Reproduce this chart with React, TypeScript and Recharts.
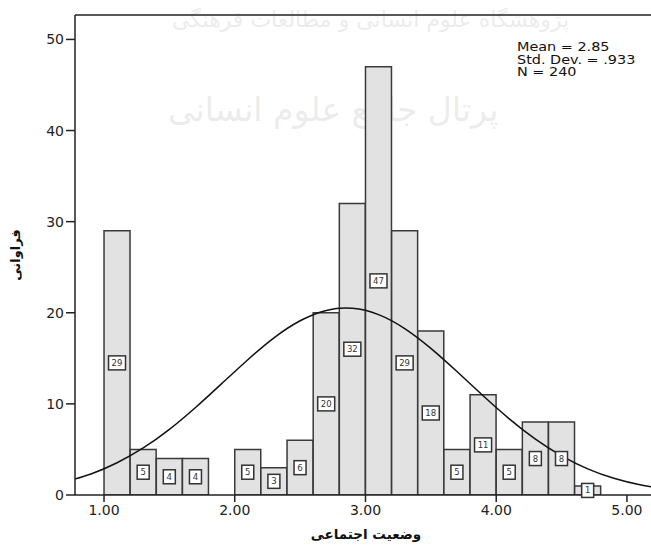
import React from 'react';
import { ComposedChart, Bar, Line, XAxis, YAxis, LabelList, ReferenceLine } from 'recharts';

// Histogram bins (bin centre, bin width 0.2)
const binMids = [1.1, 1.3, 1.5, 1.7, 1.9, 2.1, 2.3, 2.5, 2.7, 2.9, 3.1, 3.3, 3.5, 3.7, 3.9, 4.1, 4.3, 4.5, 4.7];
const binCounts = [29, 5, 4, 4, 0, 5, 3, 6, 20, 32, 47, 29, 18, 5, 11, 5, 8, 8, 1];

const curveX = [0.7, 0.9, 1.1, 1.3, 1.5, 1.7, 1.9, 2.1, 2.3, 2.5, 2.7, 2.9, 3.1, 3.3, 3.5, 3.7, 3.9, 4.1, 4.3, 4.5, 4.7, 4.9, 5.1, 5.3];
const curveY = [1.44, 2.31, 3.54, 5.16, 7.2, 9.6, 12.22, 14.85, 17.25, 19.12, 20.26, 20.49, 19.8, 18.27, 16.1, 13.55, 10.89, 8.36, 6.13, 4.3, 2.87, 1.83, 1.12, 0.65];

const xTicks = [1, 2, 3, 4, 5];
const yTicks = [0, 10, 20, 30, 40, 50];
const xMin = 0.778;
const xMax = 5.184;
const yMax = 52.68;
const statLines = ['Mean = 2.85', 'Std. Dev. = .933', 'N = 240'];
const xTitle = 'وضعیت اجتماعی';
const yTitle = 'فراوانی';
const watermarkTop = 'پژوهشگاه علوم انسانی و مطالعات فرهنگی';
const watermarkMid = 'پرتال جامع علوم انسانی';

const bins = binMids.map((x, i) => ({ x, count: binCounts[i] }));
const curve = curveX.map((x, i) => ({ x, density: curveY[i] }));

const FONT = '"DejaVu Sans", sans-serif';
const CHART_W = 651;
const PLOT_LEFT = 75;

const BoxLabel = (props: any) => {
  const { x, y, width, height, value } = props;
  if (!value) return null;
  const s = String(value);
  const w = s.length === 1 ? 12 : 17;
  const h = 14;
  const cx = Number(x) + Number(width) / 2;
  const cy = Number(y) + Number(height) / 2;
  return (
    <g>
      <rect x={cx - w / 2} y={cy - h / 2} width={w} height={h} fill="#ffffff" stroke="#333" strokeWidth={1.5} />
      <text x={cx} y={cy + 3} textAnchor="middle" fontSize={8.5} fontFamily={FONT} fill="#333">{s}</text>
    </g>
  );
};

export default function App() {
  return (
    <div style={{ position: 'absolute', left: 0, top: 0, width: 651, height: 545, background: '#fff', overflow: 'hidden' }}>
      <div style={{ position: 'absolute', left: 172, top: 7, fontFamily: FONT, fontSize: 22, color: '#000', opacity: 0.07, whiteSpace: 'nowrap', direction: 'rtl', pointerEvents: 'none' }}>
        {watermarkTop}
      </div>
      <div style={{ position: 'absolute', left: 168, top: 90, fontFamily: FONT, fontSize: 33, color: '#000', opacity: 0.07, whiteSpace: 'nowrap', direction: 'rtl', pointerEvents: 'none' }}>
        {watermarkMid}
      </div>
      <div style={{ position: 'absolute', left: 0, top: 0 }}>
        <ComposedChart width={CHART_W} height={545} data={bins} margin={{ top: 15, right: 0, left: 0, bottom: 0 }} barCategoryGap={0} barGap={0}>
          <XAxis
            dataKey="x"
            type="number"
            domain={[xMin, xMax]}
            ticks={xTicks}
            tickFormatter={(v: number) => v.toFixed(2)}
            allowDataOverflow
            height={50}
            tickSize={7}
            tickMargin={3}
            axisLine={{ stroke: '#222', strokeWidth: 1.5 }}
            tickLine={{ stroke: '#222', strokeWidth: 1.5 }}
            tick={{ fill: '#222', fontSize: 14, fontFamily: FONT }}
          />
          <YAxis
            type="number"
            domain={[0, yMax]}
            ticks={yTicks}
            allowDataOverflow
            width={PLOT_LEFT}
            tickSize={9}
            tickMargin={2}
            axisLine={{ stroke: '#222', strokeWidth: 1.5 }}
            tickLine={{ stroke: '#222', strokeWidth: 1.5 }}
            tick={{ fill: '#222', fontSize: 14, fontFamily: FONT }}
          />
          <ReferenceLine y={yMax} stroke="#222" strokeWidth={1.5} ifOverflow="visible" />
          <Bar
            dataKey="count"
            fill="#e2e2e2"
            stroke="#3a3a3a"
            strokeWidth={1.5}
            isAnimationActive={false}
          >
            <LabelList dataKey="count" content={BoxLabel} />
          </Bar>
          <Line
            data={curve}
            dataKey="density"
            type="natural"
            stroke="#111"
            strokeWidth={1.5}
            dot={false}
            activeDot={false}
            isAnimationActive={false}
          />
        </ComposedChart>
      </div>

      <div style={{ position: 'absolute', left: 517, top: 41, fontFamily: FONT, fontSize: 12, lineHeight: '12.5px', color: '#111', whiteSpace: 'pre', transform: 'scaleX(1.2)', transformOrigin: 'left top' }}>
        {statLines.map((s) => (<div key={s}>{s}</div>))}
      </div>

      <div style={{ position: 'absolute', left: 366, top: 534, transform: 'translate(-50%, -50%)', fontFamily: FONT, fontSize: 13.5, fontWeight: 'bold', color: '#111', whiteSpace: 'nowrap', direction: 'rtl' }}>
        {xTitle}
      </div>

      <div style={{ position: 'absolute', left: 15, top: 255, transform: 'translate(-50%, -50%) rotate(-90deg)', fontFamily: FONT, fontSize: 13, fontWeight: 'bold', color: '#111', whiteSpace: 'nowrap', direction: 'rtl' }}>
        {yTitle}
      </div>
    </div>
  );
}
